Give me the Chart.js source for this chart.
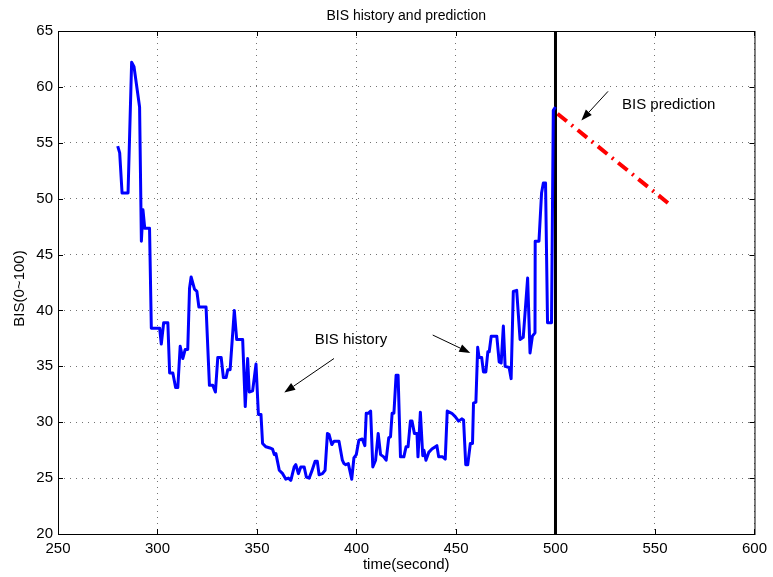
<!DOCTYPE html>
<html>
<head>
<meta charset="utf-8">
<title>BIS history and prediction</title>
<script src="https://cdn.jsdelivr.net/npm/chart.js@4.4.1/dist/chart.umd.min.js"></script>
<style>
  html, body { margin: 0; padding: 0; background: #fff; }
  #chart { display: block; }
</style>
</head>
<body>
<canvas id="chart" width="773" height="577"></canvas>
<script>
// measured BIS history (time in seconds, BIS value)
const historyTime = [
  280, 281, 282.2, 285.2, 287, 288.2, 291, 291.9, 292.7, 293.6, 296, 296.9,
  301.1, 301.9, 303.1, 305.2, 306.1, 307.7, 309.1, 310.2, 311.4, 312.7, 313.9, 315.2,
  316.1, 316.9, 318.6, 319.8, 320.8, 324.4, 326.1, 327.8, 329.1, 330.3, 332, 333.1,
  334.5, 335.3, 336.5, 338.6, 339.8, 342.8, 344.1, 345.3, 346.1, 347.8, 349.5, 350.7,
  352, 352.8, 354.5, 356.5, 357.8, 358.7, 359.5, 360.3, 361.2, 362.9, 364.5, 365.8,
  367, 368.7, 369.5, 370.8, 372, 373.7, 374.8, 376.2, 377.5, 379.2, 380.3, 381.2,
  382.9, 384.2, 385.4, 386.2, 387.6, 388.7, 391.2, 392.9, 393.7, 394.6, 395.9, 397.6,
  398.7, 399.9, 401.2, 402.9, 404.2, 404.9, 405.9, 407.1, 408.2, 409.6, 410.9, 412.1,
  413.7, 414.9, 416.2, 417.1, 417.9, 418.8, 419.9, 420.9, 422.1, 423.8, 424.9, 425.9,
  427.1, 427.9, 429.1, 430.4, 430.9, 432.1, 433.3, 433.9, 434.9, 436.3, 437.9, 440.4,
  441.3, 443.3, 444.6, 445.6, 447.9, 449.6, 451.3, 452.9, 453.8, 454.9, 455.9, 457.2,
  458.3, 458.8, 460, 460.9, 461.6, 462.9, 463.8, 465, 466, 466.7, 467.7, 470.5,
  471.7, 472.7, 473.8, 474.7, 476.7, 477.7, 478.8, 480.5, 482.2, 483.8, 486, 487.2,
  488.4, 489.7, 489.8, 491.7, 493, 493.9, 495, 496, 498, 498.9, 500
];
const historyBIS = [
  54.7, 54.1, 50.5, 50.5, 62.2, 61.8, 58.2, 46.2, 49.0, 47.35, 47.35, 38.4,
  38.4, 37.0, 38.9, 38.9, 34.4, 34.4, 33.1, 33.1, 36.8, 35.7, 36.5, 36.5,
  42.0, 43.0, 41.9, 41.7, 40.3, 40.3, 33.3, 33.3, 32.7, 35.8, 35.8, 34.0,
  34.0, 34.7, 34.7, 40.0, 37.4, 37.4, 31.4, 35.7, 32.7, 32.8, 35.2, 30.7,
  30.7, 28.1, 27.8, 27.7, 27.6, 27.1, 27.2, 26.5, 25.7, 25.4, 24.9, 25.0,
  24.8, 26.0, 26.2, 25.4, 26.0, 26.0, 25.1, 25.0, 25.6, 26.5, 26.5, 25.3,
  25.4, 25.7, 29.0, 28.9, 28.0, 28.3, 28.3, 26.6, 26.3, 26.2, 26.3, 24.9,
  26.8, 27.1, 28.4, 28.5, 27.9, 30.8, 30.8, 31.0, 26.0, 26.6, 29.0, 27.1,
  26.9, 26.6, 28.6, 28.7, 30.8, 30.8, 34.2, 34.2, 26.9, 26.9, 27.8, 27.8,
  30.1, 30.1, 29.0, 29.0, 26.9, 30.9, 27.0, 27.5, 26.6, 27.3, 27.6, 27.9,
  26.9, 26.9, 26.7, 31.0, 30.8, 30.5, 30.1, 30.3, 30.2, 26.2, 26.2, 28.1,
  28.1, 31.7, 31.8, 36.7, 35.8, 35.8, 34.5, 34.5, 36.3, 36.3, 37.7, 37.7,
  35.4, 35.3, 38.6, 35.0, 34.9, 33.9, 41.7, 41.8, 37.4, 37.6, 42.9, 36.2,
  37.7, 38.0, 46.2, 46.2, 50.5, 51.4, 51.4, 38.9, 38.9, 57.9, 58.2
];

// predicted BIS after t = 500 s
const predictTime = [501, 558];
const predictBIS = [57.6, 49.4];

// current time marker
const nowTime = [500, 500];
const nowBIS = [20, 65];

// axis ticks
const xTicks = [250, 300, 350, 400, 450, 500, 550, 600];
const yTicks = [20, 25, 30, 35, 40, 45, 50, 55, 60, 65];

// annotations: text [x, y] and arrows [tailX, tailY, headX, headY] in data units
const notes = [
  { text: 'BIS history', x: 397.2, y: 37.4, align: 'center' },
  { text: 'BIS prediction', x: 533.4, y: 58.4, align: 'left' }
];
const arrows = [
  [388.7, 35.7, 363.7, 32.65],
  [438.3, 37.8, 457.2, 36.2],
  [526.4, 59.6, 513.0, 57.0]
];

const FONT = '"Liberation Sans", Arial, Helvetica, sans-serif';

function toPoints(xs, ys) {
  return xs.map((x, i) => ({ x: x, y: ys[i] }));
}

// frame, inward tick marks, titles and arrows (matlab look)
const matlabFrame = {
  id: 'matlabFrame',
  afterDatasetsDraw(chart) {
    const { ctx, chartArea: a, scales } = chart;
    const xs = scales.x, ys = scales.y;
    ctx.save();

    // box
    ctx.strokeStyle = '#000';
    ctx.lineWidth = 1;
    ctx.strokeRect(a.left + 0.5, a.top + 0.5, a.right - a.left, a.bottom - a.top);

    // inward ticks on all four sides
    const tl = 5;
    ctx.beginPath();
    xTicks.forEach(v => {
      const px = Math.round(xs.getPixelForValue(v)) + 0.5;
      ctx.moveTo(px, a.bottom); ctx.lineTo(px, a.bottom - tl);
      ctx.moveTo(px, a.top); ctx.lineTo(px, a.top + tl);
    });
    yTicks.forEach(v => {
      const py = Math.round(ys.getPixelForValue(v)) + 0.5;
      ctx.moveTo(a.left, py); ctx.lineTo(a.left + tl, py);
      ctx.moveTo(a.right, py); ctx.lineTo(a.right - tl, py);
    });
    ctx.stroke();

    // arrows
    ctx.fillStyle = '#000';
    arrows.forEach(([x0, y0, x1, y1]) => {
      const sx = xs.getPixelForValue(x0), sy = ys.getPixelForValue(y0);
      const ex = xs.getPixelForValue(x1), ey = ys.getPixelForValue(y1);
      const ang = Math.atan2(ey - sy, ex - sx);
      const hl = 11, hw = 4;
      const bx = ex - hl * Math.cos(ang), by = ey - hl * Math.sin(ang);
      ctx.beginPath();
      ctx.moveTo(sx, sy); ctx.lineTo(bx, by);
      ctx.stroke();
      ctx.beginPath();
      ctx.moveTo(ex, ey);
      ctx.lineTo(bx + hw * Math.sin(ang), by - hw * Math.cos(ang));
      ctx.lineTo(bx - hw * Math.sin(ang), by + hw * Math.cos(ang));
      ctx.closePath();
      ctx.fill();
    });

    // text labels
    ctx.font = '15px ' + FONT;
    ctx.textBaseline = 'middle';
    notes.forEach(n => {
      ctx.textAlign = n.align;
      ctx.fillText(n.text, xs.getPixelForValue(n.x), ys.getPixelForValue(n.y));
    });

    // title and axis titles
    ctx.textAlign = 'center';
    ctx.font = '14px ' + FONT;
    ctx.fillText('BIS history and prediction', (a.left + a.right) / 2, 16);
    ctx.font = '15px ' + FONT;
    ctx.fillText('time(second)', (a.left + a.right) / 2, 565);
    ctx.translate(20, (a.top + a.bottom) / 2 + 6);
    ctx.rotate(-Math.PI / 2);
    ctx.fillText('BIS(0~100)', 0, 0);

    ctx.restore();
  }
};

const ctx = document.getElementById('chart').getContext('2d');
new Chart(ctx, {
  type: 'line',
  data: {
    datasets: [
      {
        label: 'BIS history',
        data: toPoints(historyTime, historyBIS),
        borderColor: '#0000ff',
        borderWidth: 3,
        pointRadius: 0,
        tension: 0,
        borderJoinStyle: 'round'
      },
      {
        label: 'current time',
        data: toPoints(nowTime, nowBIS),
        borderColor: '#000',
        borderWidth: 3,
        pointRadius: 0
      },
      {
        label: 'BIS prediction',
        data: toPoints(predictTime, predictBIS),
        borderColor: '#ff0000',
        borderWidth: 4,
        borderDash: [12, 6, 2, 6],
        pointRadius: 0
      }
    ]
  },
  options: {
    responsive: false,
    animation: false,
    devicePixelRatio: 1,
    layout: { padding: { top: 31, right: 16, left: 0, bottom: 0 } },
    plugins: {
      legend: { display: false },
      tooltip: { enabled: false },
      title: { display: false }
    },
    scales: {
      x: {
        type: 'linear',
        min: 250,
        max: 600,
        afterBuildTicks: s => { s.ticks = xTicks.map(v => ({ value: v })); },
        afterFit: s => { s.height = 43; },
        ticks: { color: '#000', font: { size: 15, family: FONT }, padding: 6, maxRotation: 0 },
        grid: { color: 'rgba(0,0,0,0.55)', lineWidth: 1, drawTicks: false },
        border: { display: false, dash: [1, 5] }
      },
      y: {
        type: 'linear',
        min: 20,
        max: 65,
        afterBuildTicks: s => { s.ticks = yTicks.map(v => ({ value: v })); },
        afterFit: s => { s.width = 58; },
        ticks: { color: '#000', font: { size: 15, family: FONT }, padding: 5 },
        grid: { color: 'rgba(0,0,0,0.55)', lineWidth: 1, drawTicks: false },
        border: { display: false, dash: [1, 5] }
      }
    }
  },
  plugins: [matlabFrame]
});
</script>
</body>
</html>
